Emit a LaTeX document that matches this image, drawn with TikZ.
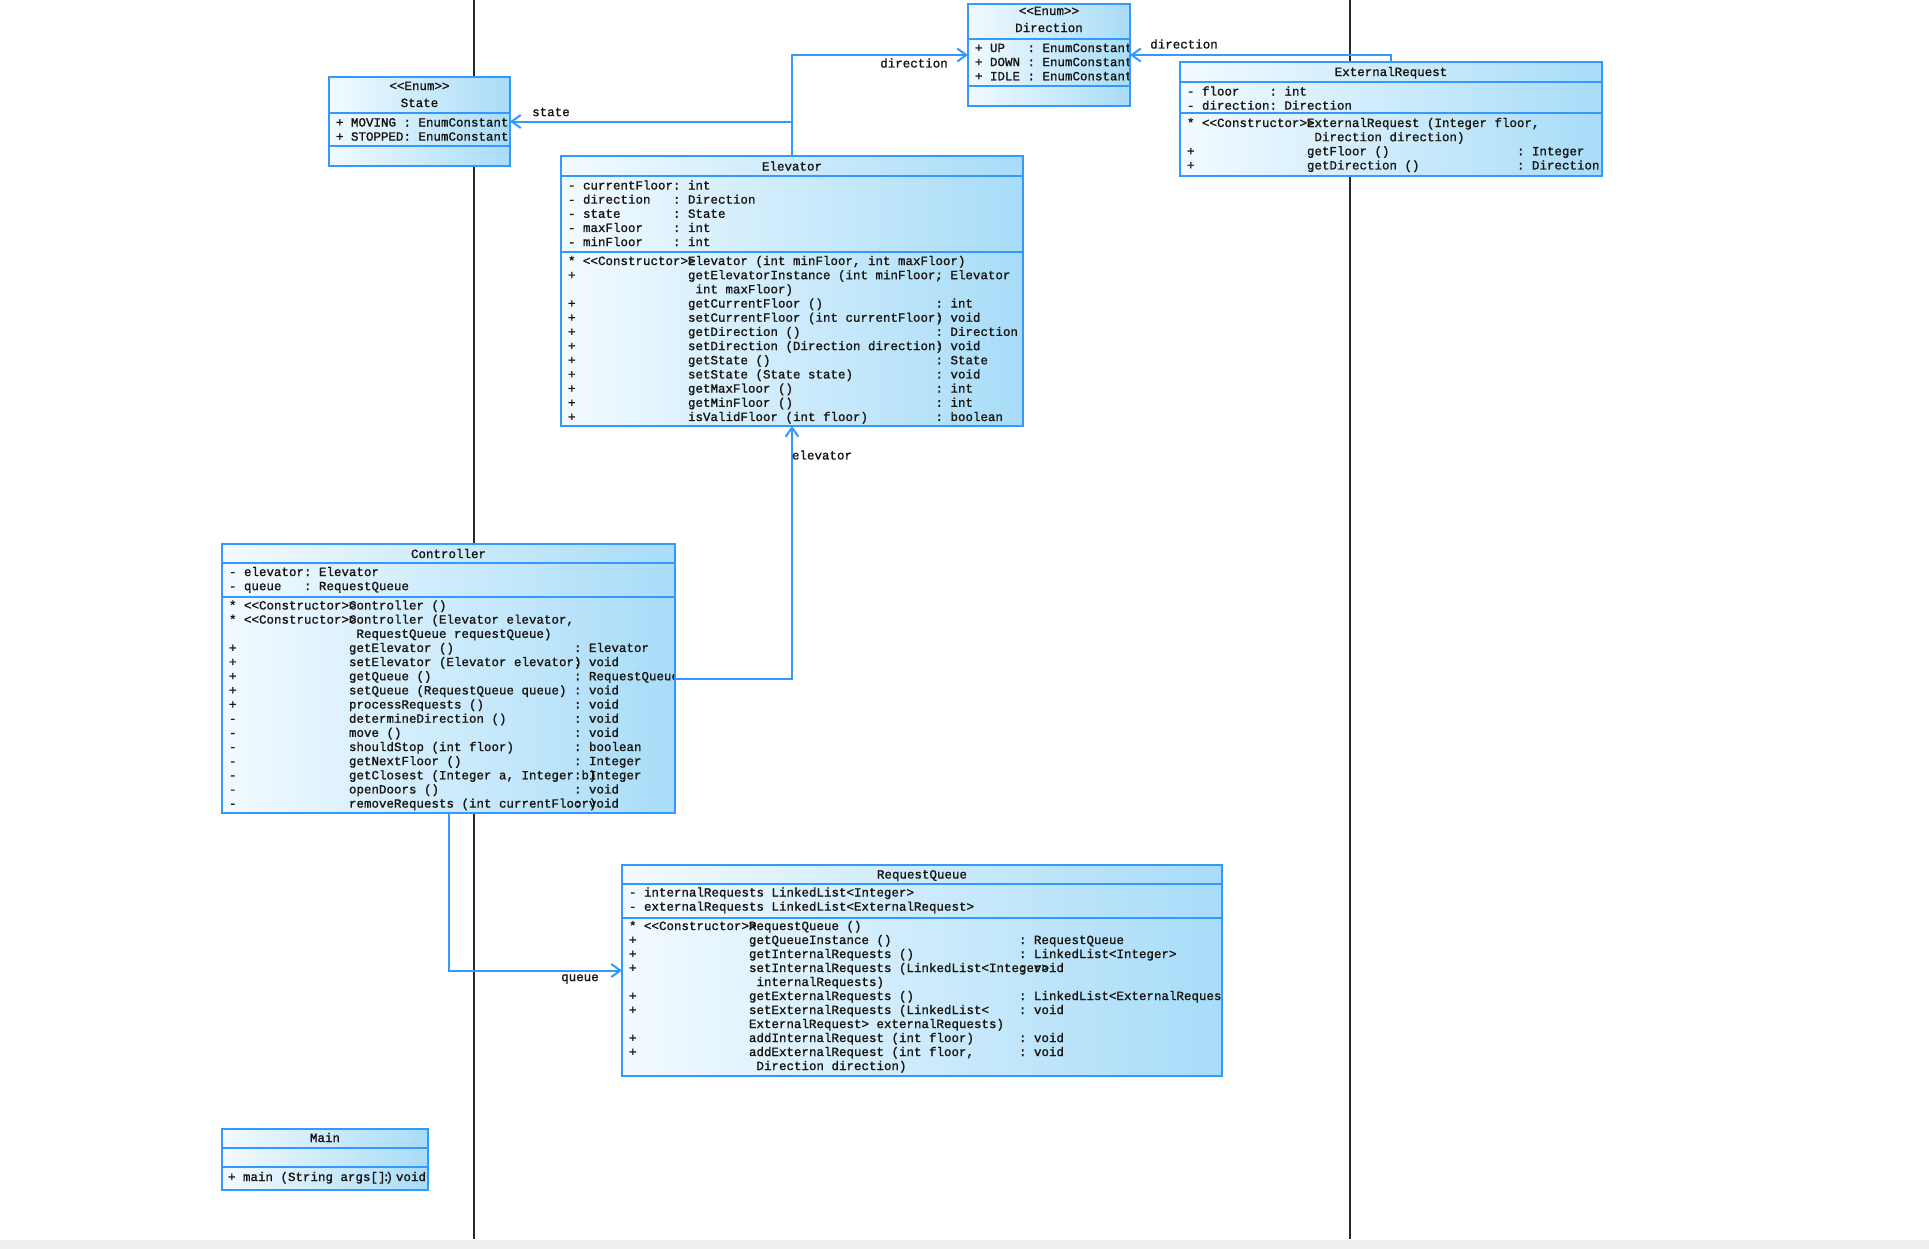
\documentclass[tikz,border=0pt]{standalone}
\usepackage{fontspec}
\newfontfamily\umlmono{Liberation Mono}[FakeBold=1.2]
\usetikzlibrary{arrows.meta,fit}
\definecolor{umlblue}{RGB}{51,153,255}
\definecolor{fillL}{RGB}{242,250,255}
\definecolor{fillR}{RGB}{168,220,248}
\definecolor{txtc}{RGB}{24,20,16}
\definecolor{vline}{RGB}{40,40,40}
\definecolor{bottomgray}{RGB}{238,238,238}
\newcommand\mono{\umlmono\fontsize{6.25}{7}\selectfont\frenchspacing}
\newlength\chw
\setlength\chw{3.75pt}
\newcommand\ct[2]{\rlap{\hspace*{#1\chw}#2}}
\def\tcA{0}\def\tcB{0}
\newcommand\meth[3]{\ct{0}{#1}\ct{16}{#2}\if\relax\detokenize{#3}\relax\else\ct{\tcA}{:}\ct{\tcB}{#3}\fi}
\newcommand\attr[3]{\ct{0}{#1}\ct{#2}{:}\ct{\numexpr#2+2\relax}{#3}}
\newcommand\rows[5]{\foreach \rw [count=\ri from 0] in {#5}{\node[txt] (#1-\ri) at (#2,{#3+\ri*#4}) {\rw};}}
\begin{document}
\begin{tikzpicture}[x=0.5pt,y=-0.5pt,
  txt/.style={anchor=base west,inner sep=0pt,outer sep=0pt,font=\mono,text=txtc},
  ttl/.style={anchor=base,inner sep=0pt,font=\mono,text=txtc},
  cls/.style={draw=umlblue,line width=1pt,left color=fillL,right color=fillR,inner sep=0pt,outer sep=0pt},
  sepline/.style={draw=umlblue,line width=1pt},
  assoc/.style={draw=umlblue,line width=1pt,-{Straight Barb[length=4.5pt,width=6.5pt,line width=1pt]}},
  lbl/.style={inner sep=0pt,font=\mono,text=txtc},
  life/.style={draw=vline,line width=0.75pt}]
\useasboundingbox (0,0) rectangle (1929,1249);
\fill[white] (0,0) rectangle (1929,1249);
\fill[bottomgray] (0,1240) rectangle (1929,1249);
% lifelines
\draw[life] (474,0) -- (474,1239);
\draw[life] (1350,0) -- (1350,1239);

% ---------- State ----------
\node[cls, fit={(329,77) (510,166)}] (state) {};
\draw[sepline] (329,113) -- (510,113);
\draw[sepline] (329,146) -- (510,146);
\node[ttl] (state-st) at (419.5,90) {<{}<Enum>{}>};
\node[ttl] (state-t) at (419.5,107) {State};
\begin{scope}\clip (330,114) rectangle (509,145);
\rows{state-a}{335}{126.5}{14.15}{{\attr{+ MOVING}{9}{EnumConstant}},{\attr{+ STOPPED}{9}{EnumConstant}}}
\end{scope}

% ---------- Direction ----------
\node[cls, fit={(968,4) (1130,106)}] (dir) {};
\draw[sepline] (968,39) -- (1130,39);
\draw[sepline] (968,86) -- (1130,86);
\node[ttl] (dir-st) at (1049,15) {<{}<Enum>{}>};
\node[ttl] (dir-t) at (1049,32) {Direction};
\begin{scope}\clip (969,40) rectangle (1129,85);
\rows{dir-a}{974}{52}{14.15}{{\attr{+ UP}{7}{EnumConstant}},{\attr{+ DOWN}{7}{EnumConstant}},{\attr{+ IDLE}{7}{EnumConstant}}}
\end{scope}

% ---------- ExternalRequest ----------
\node[cls, fit={(1180,62) (1602,176)}] (ext) {};
\draw[sepline] (1180,82) -- (1602,82);
\draw[sepline] (1180,113) -- (1602,113);
\node[ttl] (ext-t) at (1391,76) {ExternalRequest};
\begin{scope}\clip (1181,83) rectangle (1601,175);
\rows{ext-a}{1186}{95.5}{14.15}{{\attr{- floor}{11}{int}},{\attr{- direction}{11}{Direction}}}
\def\tcA{44}\def\tcB{46}
\rows{ext-m}{1186}{127}{14.15}{{\meth{* <{}<Constructor>{}>}{ExternalRequest (Integer floor,}{}},{\ct{17}{Direction direction)}},{\meth{+}{getFloor ()}{Integer}},{\meth{+}{getDirection ()}{Direction}}}
\end{scope}

% ---------- Elevator ----------
\node[cls, fit={(561,156) (1023,426)}] (elev) {};
\draw[sepline] (561,176) -- (1023,176);
\draw[sepline] (561,252) -- (1023,252);
\node[ttl] (elev-t) at (792,170.5) {Elevator};
\begin{scope}\clip (562,177) rectangle (1022,425);
\rows{elev-a}{567}{189.5}{14.15}{{\attr{- currentFloor}{14}{int}},{\attr{- direction}{14}{Direction}},{\attr{- state}{14}{State}},{\attr{- maxFloor}{14}{int}},{\attr{- minFloor}{14}{int}}}
\def\tcA{49}\def\tcB{51}
\rows{elev-m}{567}{265}{14.18}{{\meth{* <{}<Constructor>{}>}{Elevator (int minFloor, int maxFloor)}{}},{\meth{+}{getElevatorInstance (int minFloor,}{Elevator}},{\ct{17}{int maxFloor)}},{\meth{+}{getCurrentFloor ()}{int}},{\meth{+}{setCurrentFloor (int currentFloor)}{void}},{\meth{+}{getDirection ()}{Direction}},{\meth{+}{setDirection (Direction direction)}{void}},{\meth{+}{getState ()}{State}},{\meth{+}{setState (State state)}{void}},{\meth{+}{getMaxFloor ()}{int}},{\meth{+}{getMinFloor ()}{int}},{\meth{+}{isValidFloor (int floor)}{boolean}}}
\end{scope}

% ---------- Controller ----------
\node[cls, fit={(222,544) (675,813)}] (ctrl) {};
\draw[sepline] (222,563) -- (675,563);
\draw[sepline] (222,597) -- (675,597);
\node[ttl] (ctrl-t) at (448.5,558) {Controller};
\begin{scope}\clip (223,564) rectangle (674,812);
\rows{ctrl-a}{228}{576}{14.15}{{\attr{- elevator}{10}{Elevator}},{\attr{- queue}{10}{RequestQueue}}}
\def\tcA{46}\def\tcB{48}
\rows{ctrl-m}{228}{609.5}{14.15}{{\meth{* <{}<Constructor>{}>}{Controller ()}{}},{\meth{* <{}<Constructor>{}>}{Controller (Elevator elevator,}{}},{\ct{17}{RequestQueue requestQueue)}},{\meth{+}{getElevator ()}{Elevator}},{\meth{+}{setElevator (Elevator elevator)}{void}},{\meth{+}{getQueue ()}{RequestQueue}},{\meth{+}{setQueue (RequestQueue queue)}{void}},{\meth{+}{processRequests ()}{void}},{\meth{-}{determineDirection ()}{void}},{\meth{-}{move ()}{void}},{\meth{-}{shouldStop (int floor)}{boolean}},{\meth{-}{getNextFloor ()}{Integer}},{\meth{-}{getClosest (Integer a, Integer b)}{Integer}},{\meth{-}{openDoors ()}{void}},{\meth{-}{removeRequests (int currentFloor)}{void}}}
\end{scope}

% ---------- RequestQueue ----------
\node[cls, fit={(622,865) (1222,1076)}] (rq) {};
\draw[sepline] (622,884) -- (1222,884);
\draw[sepline] (622,918) -- (1222,918);
\node[ttl] (rq-t) at (922,878.5) {RequestQueue};
\begin{scope}\clip (623,885) rectangle (1221,1075);
\rows{rq-a}{628}{896.5}{14.15}{{\ct{0}{- internalRequests LinkedList<Integer>}},{\ct{0}{- externalRequests LinkedList<ExternalRequest>}}}
\def\tcA{52}\def\tcB{54}
\rows{rq-m}{628}{930}{14.0}{{\meth{* <{}<Constructor>{}>}{RequestQueue ()}{}},{\meth{+}{getQueueInstance ()}{RequestQueue}},{\meth{+}{getInternalRequests ()}{LinkedList<Integer>}},{\meth{+}{setInternalRequests (LinkedList<Integer>}{void}},{\ct{17}{internalRequests)}},{\meth{+}{getExternalRequests ()}{LinkedList<ExternalRequest>}},{\meth{+}{setExternalRequests (LinkedList<}{void}},{\ct{16}{ExternalRequest> externalRequests)}},{\meth{+}{addInternalRequest (int floor)}{void}},{\meth{+}{addExternalRequest (int floor,}{void}},{\ct{17}{Direction direction)}}}
\end{scope}

% ---------- Main ----------
\node[cls, fit={(222,1129) (428,1190)}] (main) {};
\draw[sepline] (222,1148) -- (428,1148);
\draw[sepline] (222,1167) -- (428,1167);
\node[ttl] (main-t) at (325,1142) {Main};
\begin{scope}\clip (223,1168) rectangle (427,1189);
\node[txt] (main-m) at (227,1181) {\ct{0}{+ main (String args[])}\ct{20.6}{:}\ct{22.4}{void}};
\end{scope}

% ---------- connectors ----------
\draw[assoc] (elev.north) |- (state.east);
\draw[assoc] (elev.north) |- (dir.west);
\draw[assoc] (ext.north) |- (dir.east);
\draw[assoc] (ctrl.east) -| (elev.south);
\draw[assoc] (ctrl.south) |- (rq.west);
\node[lbl] (l-state) at (551,112) {state};
\node[lbl] (l-dir1) at (914,63) {direction};
\node[lbl] (l-dir2) at (1184,44) {direction};
\node[lbl] (l-elev) at (822,455) {elevator};
\node[lbl] (l-queue) at (580,979) {queue};
\end{tikzpicture}
\end{document}
